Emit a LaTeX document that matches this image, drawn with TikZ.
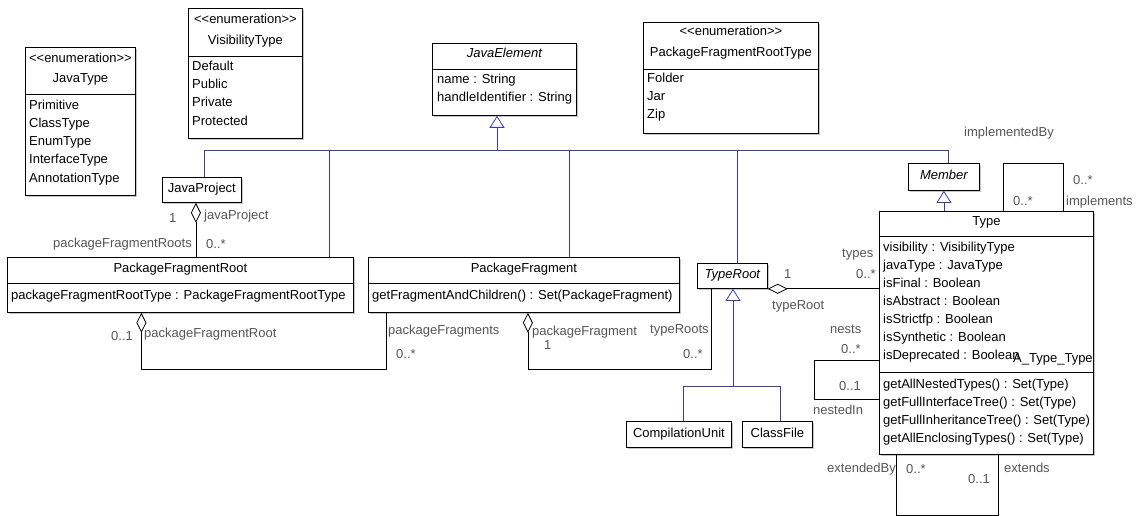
\documentclass[tikz,border=0pt]{standalone}
\usepackage{fontspec}
\setmainfont{Liberation Sans}
\usetikzlibrary{arrows.meta,positioning,shadows}
\definecolor{genblue}{RGB}{60,60,170}
\definecolor{rolegray}{RGB}{85,85,85}
\newcommand{\umlfont}{\fontsize{13}{18}\selectfont}
\tikzset{
  classbox/.style={draw, fill=white, anchor=north west, inner sep=0pt, line width=0.8pt,
    drop shadow={shadow xshift=1.5pt, shadow yshift=-1.5pt, opacity=.45}},
  simplebox/.style={classbox, font=\umlfont, text height=9pt, text depth=3pt},
  classname/.style={anchor=base, inner sep=0pt, font=\umlfont},
  attr/.style={anchor=base west, inner sep=0pt, font=\umlfont},
  role/.style={anchor=base west, inner sep=0pt, font=\umlfont, text=rolegray},
  divider/.style={line width=0.8pt},
  generalize/.style={draw=genblue, line width=0.8pt},
  inherits/.style={generalize, -{Triangle[open, width=15pt, length=12pt]}},
  assoc/.style={draw=black, line width=0.8pt},
  aggregate/.style={assoc, {Diamond[open, width=10pt, length=20pt]}-},
}
\begin{document}
\begin{tikzpicture}[x=1pt, y=-1pt]
  \useasboundingbox (0,0) rectangle (1140,516);

  % enumerations
  \node[classbox, minimum width=110, minimum height=148] (javatype) at (25,47) {};
  \node[classname] (javatype-st) at ([yshift=-16]javatype.north) {<{}<enumeration>{}>};
  \node[classname] (javatype-nm) at ([yshift=-36]javatype.north) {JavaType};
  \draw[divider] ([yshift=-47]javatype.north west) -- ([yshift=-47]javatype.north east);
  \foreach \txt [count=\i] in {Primitive, ClassType, EnumType, InterfaceType, AnnotationType}
    \node[attr] (javatype-\i) at ([xshift=4, yshift={-63-18*(\i-1)}]javatype.north west) {\txt};

  \node[classbox, minimum width=114, minimum height=130] (vistype) at (188,8) {};
  \node[classname] (vistype-st) at ([yshift=-16]vistype.north) {<{}<enumeration>{}>};
  \node[classname] (vistype-nm) at ([yshift=-37]vistype.north) {VisibilityType};
  \draw[divider] ([yshift=-48]vistype.north west) -- ([yshift=-48]vistype.north east);
  \foreach \txt [count=\i] in {Default, Public, Private, Protected}
    \node[attr] (vistype-\i) at ([xshift=4, yshift={-63-18*(\i-1)}]vistype.north west) {\txt};

  \node[classbox, minimum width=175, minimum height=111] (pfrtype) at (643,22) {};
  \node[classname] (pfrtype-st) at ([yshift=-14]pfrtype.north) {<{}<enumeration>{}>};
  \node[classname] (pfrtype-nm) at ([yshift=-35]pfrtype.north) {PackageFragmentRootType};
  \draw[divider] ([yshift=-47]pfrtype.north west) -- ([yshift=-47]pfrtype.north east);
  \foreach \txt [count=\i] in {Folder, Jar, Zip}
    \node[attr] (pfrtype-\i) at ([xshift=4, yshift={-61-18*(\i-1)}]pfrtype.north west) {\txt};

  % classes
  \node[classbox, minimum width=144, minimum height=72] (jelement) at (432,43) {};
  \node[classname, font=\umlfont\itshape] (jelement-nm) at ([yshift=-15]jelement.north) {JavaElement};
  \draw[divider] ([yshift=-26]jelement.north west) -- ([yshift=-26]jelement.north east);
  \foreach \txt [count=\i] in {name : String, handleIdentifier : String}
    \node[attr] (jelement-\i) at ([xshift=5, yshift={-41-18*(\i-1)}]jelement.north west) {\txt};

  \node[simplebox, minimum width=79, minimum height=25] (jproject) at (162,177) {JavaProject};

  \node[classbox, minimum width=346, minimum height=55] (pfroot) at (7,257) {};
  \node[classname] (pfroot-nm) at ([yshift=-15]pfroot.north) {PackageFragmentRoot};
  \draw[divider] ([yshift=-26]pfroot.north west) -- ([yshift=-26]pfroot.north east);
  \node[attr] (pfroot-1) at ([xshift=4, yshift=-42]pfroot.north west) {packageFragmentRootType : PackageFragmentRootType};

  \node[classbox, minimum width=311, minimum height=55] (pfrag) at (368,257) {};
  \node[classname] (pfrag-nm) at ([yshift=-15]pfrag.north) {PackageFragment};
  \draw[divider] ([yshift=-26]pfrag.north west) -- ([yshift=-26]pfrag.north east);
  \node[attr] (pfrag-1) at ([xshift=4, yshift=-42]pfrag.north west) {getFragmentAndChildren() : Set(PackageFragment)};

  \node[simplebox, font=\umlfont\itshape, minimum width=70, minimum height=25] (typeroot) at (697,263) {TypeRoot};
  \node[simplebox, minimum width=105, minimum height=26] (cunit) at (626,421) {CompilationUnit};
  \node[simplebox, minimum width=70, minimum height=26] (cfile) at (742,421) {ClassFile};
  \node[simplebox, font=\umlfont\itshape, minimum width=71, minimum height=27] (member) at (908,163) {Member};

  \node[classbox, minimum width=214, minimum height=243] (type) at (879,211) {};
  \node[classname] (type-nm) at ([yshift=-14]type.north) {Type};
  \draw[divider] ([yshift=-25]type.north west) -- ([yshift=-25]type.north east);
  \foreach \txt [count=\i] in {visibility : VisibilityType, javaType : JavaType, isFinal : Boolean,
      isAbstract : Boolean, isStrictfp : Boolean, isSynthetic : Boolean, isDeprecated : Boolean}
    \node[attr] (type-a\i) at ([xshift=4, yshift={-40-18*(\i-1)}]type.north west) {\txt};
  \draw[divider] ([yshift=-161]type.north west) -- ([yshift=-161]type.north east);
  \foreach \txt [count=\i] in {getAllNestedTypes() : Set(Type), getFullInterfaceTree() : Set(Type),
      getFullInheritanceTree() : Set(Type), getAllEnclosingTypes() : Set(Type)}
    \node[attr] (type-m\i) at ([xshift=4, yshift={-177-18*(\i-1)}]type.north west) {\txt};

  % generalizations
  \coordinate (busjoin) at (497,150);
  \draw[inherits] (busjoin) -- (busjoin |- jelement.south);
  \draw[generalize] ([xshift=2]jproject.north) |- (busjoin);
  \draw[generalize] ([xshift=149]pfroot.north) |- (busjoin);
  \draw[generalize] ([xshift=45]pfrag.north) |- (busjoin);
  \draw[generalize] ([xshift=5]typeroot.north) |- (busjoin);
  \draw[generalize] ([xshift=4]member.north) |- (busjoin);
  \draw[inherits] (member.south |- type.north) -- (member.south);

  \coordinate (trjoin) at (733,386);
  \draw[inherits] (trjoin) -- (trjoin |- typeroot.south);
  \draw[generalize] ([xshift=4]cunit.north) |- (trjoin);
  \draw[generalize] ([xshift=3]cfile.north) |- (trjoin);

  % associations
  \draw[aggregate] ([xshift=-6]jproject.south) -- ++(0,55);
  \draw[aggregate] ([xshift=-39]pfroot.south) -- ++(0,57) -| ([xshift=18]pfrag.south west);
  \draw[aggregate] ([xshift=4]pfrag.south) -- ++(0,57) -| ([xshift=14]typeroot.south west);
  \draw[aggregate] (typeroot.south east) -- (typeroot.south east -| type.west);
  \draw[assoc] ([xshift=124]type.north west) |- ([xshift=184, yshift=48]type.north west)
    -- ([xshift=184]type.north west);
  \draw[assoc] ([yshift=-149]type.north west) -- ++(-65,0) |- ([yshift=-188]type.north west);
  \draw[assoc] ([xshift=17]type.south west) -- ++(0,61) -| ([xshift=119]type.south west);

  % role names and multiplicities
  \node[role] (r-jp1) at (169,222) {1};
  \node[role] (r-jp) at (204,219) {javaProject};
  \node[role, anchor=base east] (r-pfrs) at (192,247) {packageFragmentRoots};
  \node[role] (r-pfrsm) at (206,248) {0..*};
  \node[role] (r-pfr1) at (111,340) {0..1};
  \node[role] (r-pfr) at (144,337) {packageFragmentRoot};
  \node[role] (r-pfs) at (388,334) {packageFragments};
  \node[role] (r-pfsm) at (396,358) {0..*};
  \node[role] (r-pf) at (532,335) {packageFragment};
  \node[role] (r-pf1) at (544,349) {1};
  \node[role] (r-trs) at (650,333) {typeRoots};
  \node[role] (r-trsm) at (683,358) {0..*};
  \node[role] (r-tr1) at (784,278) {1};
  \node[role] (r-types) at (842,257) {types};
  \node[role] (r-typesm) at (856,278) {0..*};
  \node[role] (r-tr) at (772,309) {typeRoot};
  \node[role] (r-nests) at (830,333) {nests};
  \node[role] (r-nestsm) at (841,353) {0..*};
  \node[role] (r-nin1) at (839,390) {0..1};
  \node[role] (r-nin) at (813,414) {nestedIn};
  \node[role] (r-extby) at (827,472) {extendedBy};
  \node[role] (r-extbym) at (906,473) {0..*};
  \node[role] (r-ext1) at (968,483) {0..1};
  \node[role] (r-ext) at (1004,472) {extends};
  \node[role] (r-implby) at (964,137) {implementedBy};
  \node[role] (r-implbym) at (1013,205) {0..*};
  \node[role] (r-implm) at (1073,184) {0..*};
  \node[role] (r-impl) at (1066,205) {implements};
  \node[attr] (assocname) at (1013,362) {A\_Type\_Type};
\end{tikzpicture}
\end{document}
